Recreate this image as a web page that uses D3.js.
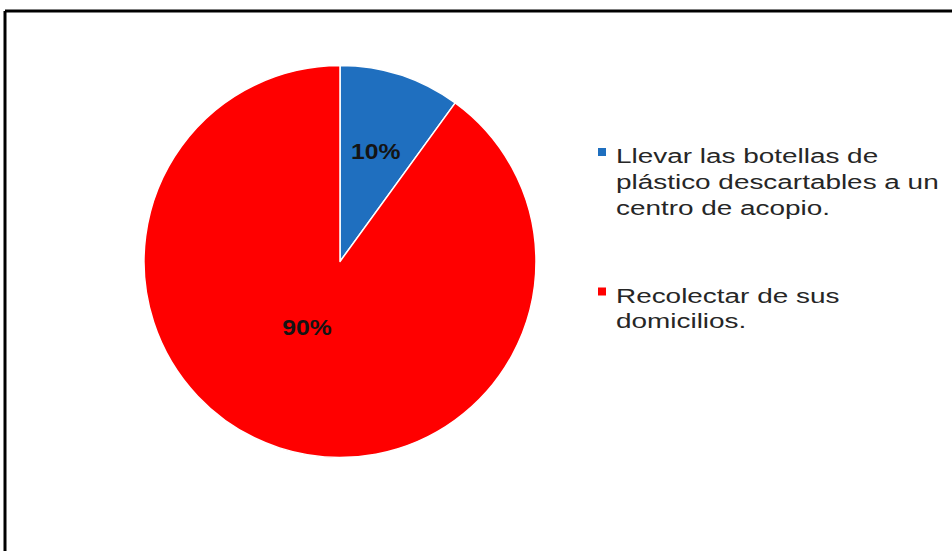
<!DOCTYPE html>
<html>
<head>
<meta charset="utf-8">
<script src="https://cdn.jsdelivr.net/npm/d3@7"></script>
<style>
  html, body { margin: 0; padding: 0; background: #fff; }
  svg { display: block; }
</style>
</head>
<body>
<svg id="chart" width="952" height="551"></svg>
<script>
const categories = [
  "Llevar las botellas de plástico descartables a un centro de acopio.",
  "Recolectar de sus domicilios."
];
const values = [10, 90];
const valueLabels = ["10%", "90%"];
const legendLines = [
  ["Llevar las botellas de", "plástico descartables a un", "centro de acopio."],
  ["Recolectar de sus", "domicilios."]
];
const colors = ["#1f6fbf", "#ff0000"];

const W = 952, H = 551;
const svg = d3.select("#chart");

// frame (cropped border)
svg.append("line").attr("x1", 5).attr("y1", 11).attr("x2", W).attr("y2", 11)
  .attr("stroke", "#000").attr("stroke-width", 3);
svg.append("line").attr("x1", 5).attr("y1", 11).attr("x2", 5).attr("y2", H)
  .attr("stroke", "#000").attr("stroke-width", 3);

const cx = 340, cy = 261.5, R = 196;
const labelRadiusFrac = [0.59, 0.375];
const labelAngleShift = [0, 0.15];

const pie = d3.pie().sort(null).value(d => d)(values);
const arc = d3.arc().innerRadius(0).outerRadius(R);

const g = svg.append("g").attr("transform", `translate(${cx},${cy})`);
g.selectAll("path.slice").data(pie).join("path")
  .attr("class", "slice")
  .attr("d", arc)
  .attr("fill", (d, i) => colors[i])
  .attr("stroke", "#fff")
  .attr("stroke-width", 1.5)
  .attr("stroke-linejoin", "round");

g.selectAll("g.lbl").data(pie).join("g")
  .attr("class", "lbl")
  .attr("transform", (d, i) => {
    const r = R * labelRadiusFrac[i];
    const s = labelAngleShift[i];
    const c = d3.arc().innerRadius(r).outerRadius(r)
      .centroid({ startAngle: d.startAngle + s, endAngle: d.endAngle + s });
    return `translate(${c[0]},${c[1]}) scale(1.15,1)`;
  })
  .append("text")
  .attr("text-anchor", "middle")
  .attr("dy", "0.36em")
  .attr("font-family", "Liberation Sans, Arial, sans-serif")
  .attr("font-weight", "bold")
  .attr("font-size", 21.5)
  .attr("fill", "#141414")
  .text((d, i) => valueLabels[i]);

// legend
const legendX = 598, textX = 616;
const entryTop = [163, 302.5];
const lineH = 25.8;
const leg = svg.append("g");
legendLines.forEach((lines, i) => {
  leg.append("rect")
    .attr("x", legendX).attr("y", entryTop[i] - 15)
    .attr("width", 8).attr("height", 8)
    .attr("fill", colors[i]);
  lines.forEach((ln, j) => {
    leg.append("g")
      .attr("transform", `translate(${textX},${entryTop[i] + j * lineH}) scale(1.33,1)`)
      .append("text")
      .attr("font-family", "Liberation Sans, Arial, sans-serif")
      .attr("font-size", 21)
      .attr("fill", "#262626")
      .text(ln);
  });
});
</script>
</body>
</html>
